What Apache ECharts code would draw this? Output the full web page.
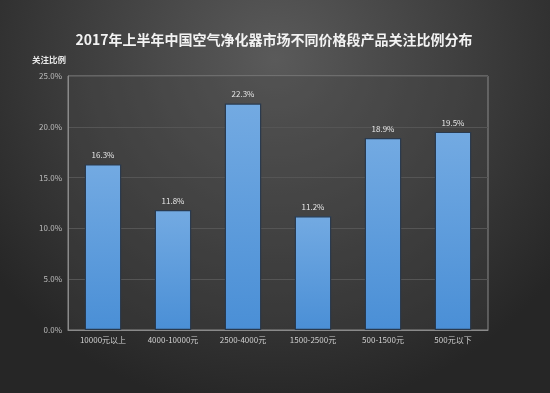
<!DOCTYPE html>
<html><head><meta charset="utf-8">
<script src="https://cdn.jsdelivr.net/npm/echarts@6/dist/echarts.min.js"></script>
<style>html,body{margin:0;padding:0;background:#333;}#c{width:550px;height:393px;}</style>
</head><body><div id="c"></div>
<script>
const categories = ['10000元以上','4000-10000元','2500-4000元','1500-2500元','500-1500元','500元以下'];
const values = [16.3, 11.8, 22.3, 11.2, 18.9, 19.5];
const yTicks = {min: 0, max: 25, interval: 5};
const titleText = '2017年上半年中国空气净化器市场不同价格段产品关注比例分布';
const yName = '关注比例';

const chart = echarts.init(document.getElementById('c'));
chart.setOption({
  animation: false,
  backgroundColor: {type:'radial', x:0.5, y:0.15, r:0.9, colorStops:[{offset:0,color:'#5a5a5a'},{offset:0.6,color:'#3b3b3b'},{offset:1,color:'#262626'}]},
  title: {text: titleText, left: 269, top: 28, textAlign:'center',
    textStyle:{color:'#f2f2f2', fontSize:14, fontWeight:'bold', fontFamily:'Noto Sans CJK SC'}},
  grid: {left: 68, right: 62, top: 76, bottom: 63, show:true, backgroundColor:'rgba(70,70,70,0.3)', borderColor:'#8a8a8a', borderWidth:1},
  xAxis: {type:'category', data: categories,
    axisLine:{lineStyle:{color:'#8a8a8a'}}, axisTick:{show:false},
    axisLabel:{color:'#d0d0d0', fontSize:8, margin:6, fontFamily:'Noto Sans CJK SC', interval:0}},
  yAxis: {type:'value', min:yTicks.min, max:yTicks.max, interval:yTicks.interval,
    name: yName, nameLocation:'end', nameGap:12,
    nameTextStyle:{color:'#e8e8e8', fontSize:8.5, fontWeight:'bold', align:'right', padding:[0,2,0,0], fontFamily:'Noto Sans CJK SC'},
    axisLine:{show:true, lineStyle:{color:'#8a8a8a'}}, axisTick:{show:false},
    splitLine:{lineStyle:{color:'#555555', width:1}},
    axisLabel:{color:'#bdbdbd', fontSize:8, margin:6, formatter: v => v.toFixed(1)+'%', fontFamily:'Noto Sans CJK SC'}},
  series: [{type:'bar', data: values, barWidth:'52%',
    itemStyle:{color:{type:'linear',x:0,y:0,x2:0,y2:1,colorStops:[{offset:0,color:'#73aae2'},{offset:1,color:'#4a8fd6'}]},
      borderColor:'#2a3a4e', borderWidth:1.2},
    label:{show:true, position:'top', distance:5, color:'#e6e6e6', fontSize:8, formatter: p => p.value.toFixed(1)+'%', fontFamily:'Noto Sans CJK SC'}}]
});
</script></body></html>
